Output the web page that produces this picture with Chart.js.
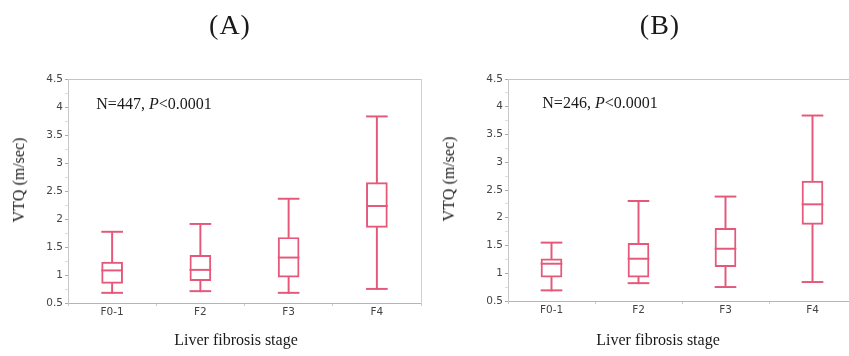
<!DOCTYPE html>
<html>
<head>
<meta charset="utf-8">
<script src="https://cdn.jsdelivr.net/npm/chart.js@4/dist/chart.umd.min.js"></script>
<style>
html,body{margin:0;padding:0;background:#fff;overflow:hidden;width:849px;height:356px;}
#wrap{position:relative;width:849px;height:356px;overflow:hidden;}
canvas{position:absolute;top:0;}
.t{position:absolute;font-family:"Liberation Serif","Times New Roman",serif;color:#1a1a1a;white-space:nowrap;transform:translate(-50%,-50%);}
.panel{font-size:28px;letter-spacing:1px;}
.ax{font-size:16px;}
.rot{transform:translate(-50%,-50%) rotate(-90deg);}
.ann{font-size:16px;}
</style>
</head>
<body>
<div id="wrap">
<canvas id="cA" width="430" height="356" style="left:0px"></canvas>
<canvas id="cB" width="440" height="356" style="left:430px"></canvas>
<div class="t panel" style="left:230px;top:25px">(A)</div>
<div class="t panel" style="left:660px;top:25px">(B)</div>
<div class="t ax rot" style="left:19px;top:180px">VTQ (m/sec)</div>
<div class="t ax rot" style="left:449px;top:179px">VTQ (m/sec)</div>
<div class="t ax" style="left:236px;top:340px">Liver fibrosis stage</div>
<div class="t ax" style="left:658px;top:340px">Liver fibrosis stage</div>
<div class="t ann" style="left:154px;top:104px">N=447, <i>P</i>&lt;0.0001</div>
<div class="t ann" style="left:600px;top:103px">N=246, <i>P</i>&lt;0.0001</div>
</div>
<script>
const categories = ['F0-1', 'F2', 'F3', 'F4'];
const yTickValues = [0.5, 1, 1.5, 2, 2.5, 3, 3.5, 4, 4.5];

// Panel A (N=447)
const A_low  = [0.67, 0.70, 0.67, 0.74];
const A_q1   = [0.85, 0.90, 0.96, 1.85];
const A_med  = [1.07, 1.08, 1.30, 2.22];
const A_q3   = [1.23, 1.35, 1.67, 2.65];
const A_high = [1.76, 1.90, 2.35, 3.82];

// Panel B (N=246)
const B_low  = [0.68, 0.81, 0.74, 0.83];
const B_q1   = [0.93, 0.93, 1.12, 1.88];
const B_med  = [1.16, 1.25, 1.43, 2.23];
const B_q3   = [1.26, 1.54, 1.81, 2.66];
const B_high = [1.54, 2.29, 2.37, 3.83];

const RED = '#e4587a';
const AXIS = '#b5b5b5';
const LW = 1.3;

function pairs(a, b) { return categories.map((_, i) => [a[i], b[i]]); }

function boxDatasets(low, q1, med, q3, high) {
  const common = { grouped: false, borderSkipped: false };
  return [
    Object.assign({ label: 'box', data: pairs(q1, q3), backgroundColor: 'rgba(0,0,0,0)', borderColor: RED, borderWidth: LW, barThickness: 21 }, common),
    Object.assign({ label: 'median', data: pairs(med, med), backgroundColor: RED, borderWidth: 0, barThickness: 21, minBarLength: LW }, common),
    Object.assign({ label: 'whiskerLow', data: pairs(low, q1), backgroundColor: RED, borderWidth: 0, barThickness: LW }, common),
    Object.assign({ label: 'whiskerHigh', data: pairs(q3, high), backgroundColor: RED, borderWidth: 0, barThickness: LW }, common),
    Object.assign({ label: 'capLow', data: pairs(low, low), backgroundColor: RED, borderWidth: 0, barThickness: 21, minBarLength: LW }, common),
    Object.assign({ label: 'capHigh', data: pairs(high, high), backgroundColor: RED, borderWidth: 0, barThickness: 21, minBarLength: LW }, common)
  ];
}

function makeChart(id, datasets, yWidth, pad) {
  const tickFont = { family: 'DejaVu Sans', size: 10.5 };
  return new Chart(document.getElementById(id), {
    type: 'bar',
    data: { labels: categories, datasets: datasets },
    options: {
      responsive: false,
      animation: false,
      layout: { padding: pad },
      plugins: { legend: { display: false }, tooltip: { enabled: false }, title: { display: false } },
      scales: {
        x: {
          type: 'category',
          position: 'bottom',
          offset: true,
          grid: { offset: true, drawOnChartArea: false, drawTicks: true, tickLength: 3, tickColor: '#c8c8c8' },
          border: { color: AXIS, width: 1 },
          ticks: { color: '#444', font: tickFont, padding: 0, maxRotation: 0 },
          afterFit: s => { s.height = 20; }
        },
        x2: {
          type: 'category',
          position: 'top',
          labels: categories,
          grid: { drawOnChartArea: false, drawTicks: false },
          border: { color: '#c4c4c4', width: 1 },
          ticks: { display: false },
          afterFit: s => { s.height = 0; }
        },
        y: {
          type: 'linear',
          position: 'left',
          min: 0.5,
          max: 4.5,
          grid: {
            drawOnChartArea: false, drawTicks: true, tickLength: 3,
            tickColor: c => (yTickValues.includes(c.tick.value) ? '#aaaaaa' : '#dddddd')
          },
          border: { color: '#c8c8c8', width: 1 },
          ticks: {
            stepSize: 0.25,
            autoSkip: false,
            color: '#444',
            font: tickFont,
            padding: 2,
            callback: v => (yTickValues.includes(v) ? String(v) : '')
          },
          afterFit: s => { s.width = yWidth; }
        },
        y2: {
          type: 'linear',
          position: 'right',
          min: 0.5,
          max: 4.5,
          grid: { drawOnChartArea: false, drawTicks: false },
          border: { color: '#d0d0d0', width: 1 },
          ticks: { display: false },
          afterFit: s => { s.width = 0; }
        }
      }
    }
  });
}

makeChart('cA', boxDatasets(A_low, A_q1, A_med, A_q3, A_high), 68, { top: 79, left: 0, right: 9, bottom: 33 });
makeChart('cB', boxDatasets(B_low, B_q1, B_med, B_q3, B_high), 78, { top: 79, left: 0, right: 14, bottom: 35 });
</script>
</body>
</html>
